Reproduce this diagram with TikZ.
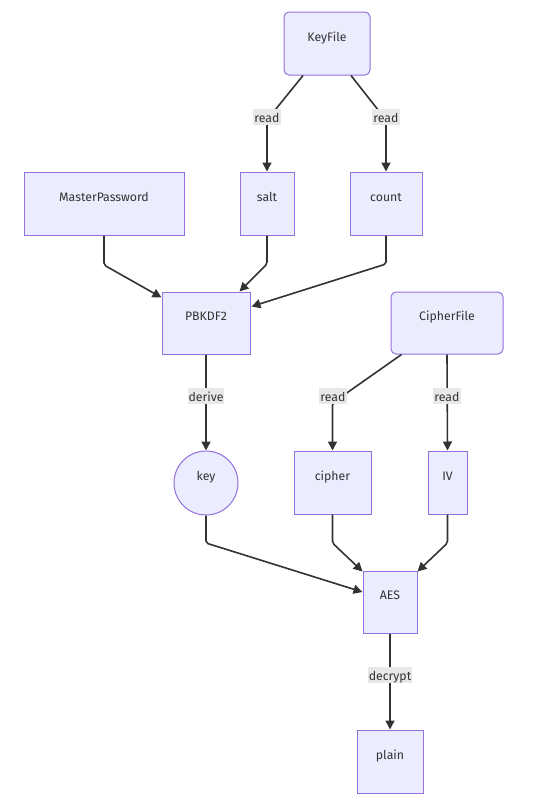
\documentclass[tikz,border=0pt]{standalone}
\usepackage{fontspec}
\setmainfont{Fira Sans}
\usetikzlibrary{arrows.meta,calc}
\definecolor{nfill}{HTML}{ECECFF}
\definecolor{nstroke}{HTML}{9370DB}
\definecolor{ln}{HTML}{333333}
\definecolor{lblbg}{HTML}{E8E8E8}
\begin{document}
\begin{tikzpicture}[x=1pt,y=-1pt,
  box/.style={draw=nstroke,fill=nfill,line width=1pt,inner sep=0pt,text=ln,
    font=\fontsize{12.3}{14}\selectfont,text height=0pt,text depth=5pt},
  rbox/.style={box,rounded corners=5pt},
  cbox/.style={box,circle,minimum size=64pt},
  edge/.style={draw=ln,line width=1.6pt,rounded corners=2pt,
    -{Triangle[length=9pt,width=9pt]}},
  lbl/.style={fill=lblbg,text=ln,font=\fontsize{12.3}{14}\selectfont,
    inner xsep=1pt,inner ysep=1pt,text height=12pt,text depth=2pt}]
\useasboundingbox (0,0) rectangle (533,807);
\fill[white] (0,0) rectangle (533,807);

% nodes
\node[rbox,minimum width=86pt,minimum height=63pt] (KeyFile) at (327,43.5) {KeyFile};
\node[box,minimum width=160pt,minimum height=63pt] (MasterPassword) at (104,203.5) {MasterPassword};
\node[box,minimum width=54pt,minimum height=63pt] (salt) at (267,203.5) {salt};
\node[box,minimum width=72pt,minimum height=63pt] (count) at (386,203.5) {count};
\node[box,minimum width=88pt,minimum height=62pt] (PBKDF2) at (206,323) {PBKDF2};
\node[rbox,minimum width=112pt,minimum height=62pt] (CipherFile) at (447,323) {CipherFile};
\node[cbox] (key) at (206,483) {key};
\node[box,minimum width=77pt,minimum height=63pt] (cipher) at (332.5,482.5) {cipher};
\node[box,minimum width=39pt,minimum height=63pt] (IV) at (447.5,482.5) {IV};
\node[box,minimum width=54pt,minimum height=62pt] (AES) at (390,602) {AES};
\node[box,minimum width=66pt,minimum height=63pt] (plain) at (390,761.5) {plain};

% bend points
\coordinate (b1) at (267,120);
\coordinate (b2) at (386,120);
\coordinate (b3) at (104,265);
\coordinate (b4) at (267,264);
\coordinate (b5) at (386,264);
\coordinate (b7) at (332.5,403);
\coordinate (b9) at (206,543);
\coordinate (b10) at (332.5,543);
\coordinate (b11) at (447.5,543);

% edges
\draw[edge] ($(KeyFile.south)+(-24,0)$) -- (b1) -- (salt.north);
\draw[edge] ($(KeyFile.south)+(24,0)$) -- (b2) -- (count.north);
\draw[edge] (MasterPassword.south) -- (b3) -- ($(PBKDF2.north west)+(0,6)$);
\draw[edge] (salt.south) -- (b4) -- ($(PBKDF2.north east)+(-11,0)$);
\draw[edge] (count.south) -- (b5) -- ($(PBKDF2.north east)+(1,15)$);
\draw[edge] (PBKDF2.south) -- (key.north);
\draw[edge] ($(CipherFile.south west)+(11,0)$) -- (b7) -- (cipher.north);
\draw[edge] (CipherFile.south) -- (IV.north);
\draw[edge] (key.south) -- (b9) -- ($(AES.west)+(0,-10)$);
\draw[edge] (cipher.south) -- (b10) -- ($(AES.north west)+(0,1)$);
\draw[edge] (IV.south) -- (b11) -- ($(AES.north east)+(0,1)$);
\draw[edge] (AES.south) -- (plain.north);

% edge labels
\node[lbl] (l1) at (267,117) {read};
\node[lbl] (l2) at (386,117) {read};
\node[lbl] (l3) at (206,396) {derive};
\node[lbl] (l4) at (333,396) {read};
\node[lbl] (l5) at (447,396) {read};
\node[lbl] (l6) at (390,675) {decrypt};
\end{tikzpicture}
\end{document}
